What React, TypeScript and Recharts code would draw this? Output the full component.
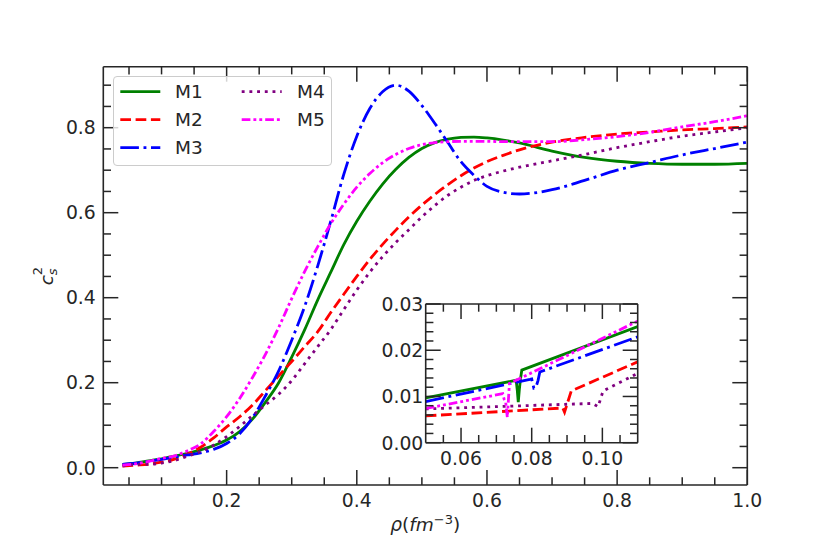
import React from 'react';
import { LineChart, Line, XAxis, YAxis, Legend } from 'recharts';

// ---------- main panel data ----------
const rho = [0.04, 0.06, 0.08, 0.10, 0.12, 0.14, 0.16, 0.18, 0.20, 0.22, 0.24, 0.26, 0.28, 0.30, 0.32, 0.34, 0.36, 0.38, 0.40, 0.42, 0.44, 0.46, 0.48, 0.50, 0.52, 0.54, 0.56, 0.58, 0.60, 0.625, 0.65, 0.70, 0.75, 0.80, 0.85, 0.90, 0.95, 1.0];
const m1 = [0.008, 0.011, 0.016, 0.021, 0.027, 0.034, 0.042, 0.052, 0.065, 0.085, 0.115, 0.155, 0.2, 0.26, 0.325, 0.395, 0.46, 0.525, 0.58, 0.627, 0.668, 0.702, 0.73, 0.751, 0.765, 0.773, 0.777, 0.778, 0.776, 0.771, 0.764, 0.745, 0.73, 0.721, 0.716, 0.714, 0.714, 0.716];
const m2 = [0.004, 0.006, 0.008, 0.013, 0.02, 0.032, 0.048, 0.07, 0.096, 0.12, 0.148, 0.182, 0.216, 0.25, 0.285, 0.32, 0.365, 0.408, 0.45, 0.49, 0.526, 0.559, 0.59, 0.618, 0.643, 0.666, 0.687, 0.705, 0.72, 0.735, 0.748, 0.766, 0.777, 0.785, 0.79, 0.795, 0.798, 0.802];
const m3 = [0.008, 0.0105, 0.015, 0.0195, 0.025, 0.03, 0.035, 0.043, 0.057, 0.08, 0.118, 0.17, 0.228, 0.3, 0.38, 0.475, 0.58, 0.69, 0.78, 0.845, 0.885, 0.9, 0.886, 0.852, 0.81, 0.765, 0.72, 0.688, 0.662, 0.648, 0.644, 0.654, 0.676, 0.7, 0.718, 0.736, 0.751, 0.766];
const m4 = [0.004, 0.0075, 0.008, 0.011, 0.017, 0.027, 0.038, 0.053, 0.073, 0.097, 0.123, 0.148, 0.173, 0.205, 0.245, 0.285, 0.325, 0.372, 0.418, 0.46, 0.497, 0.53, 0.56, 0.59, 0.617, 0.641, 0.66, 0.676, 0.687, 0.698, 0.707, 0.722, 0.737, 0.753, 0.767, 0.78, 0.79, 0.8];
const m5 = [0.006, 0.009, 0.015, 0.022, 0.028, 0.04, 0.056, 0.085, 0.12, 0.163, 0.213, 0.268, 0.33, 0.398, 0.462, 0.52, 0.574, 0.62, 0.66, 0.692, 0.718, 0.737, 0.751, 0.76, 0.765, 0.767, 0.768, 0.768, 0.768, 0.767, 0.767, 0.767, 0.772, 0.779, 0.789, 0.802, 0.814, 0.828];

// ---------- inset data ----------
const insetM1X = [0.05, 0.0756, 0.0759, 0.0762, 0.0765, 0.0768, 0.0772, 0.11];
const insetM1Y = [0.0097, 0.0135, 0.0115, 0.0088, 0.0115, 0.0136, 0.0157, 0.0251];
const insetM2X = [0.05, 0.0888, 0.0893, 0.0905, 0.0912, 0.11];
const insetM2Y = [0.0058, 0.0075, 0.0066, 0.0095, 0.0112, 0.0175];
const insetM3X = [0.05, 0.0795, 0.08, 0.0806, 0.0812, 0.0818, 0.0823, 0.11];
const insetM3Y = [0.0089, 0.0137, 0.0138, 0.0118, 0.012, 0.0135, 0.0153, 0.0229];
const insetM4X = [0.05, 0.0972, 0.0988, 0.1002, 0.11];
const insetM4Y = [0.0073, 0.0085, 0.0078, 0.0112, 0.015];
const insetM5X = [0.05, 0.0718, 0.0722, 0.0726, 0.0731, 0.0737, 0.11];
const insetM5Y = [0.0074, 0.0106, 0.0094, 0.009, 0.0055, 0.0128, 0.0263];

// ---------- ticks ----------
const mainXTicks = [0.05, 0.1, 0.15, 0.2, 0.25, 0.3, 0.35, 0.4, 0.45, 0.5, 0.55, 0.6, 0.65, 0.7, 0.75, 0.8, 0.85, 0.9, 0.95, 1.0];
const mainYTicks = [0, 0.05, 0.1, 0.15, 0.2, 0.25, 0.3, 0.35, 0.4, 0.45, 0.5, 0.55, 0.6, 0.65, 0.7, 0.75, 0.8, 0.85, 0.9];
const insetXTicks = [0.055, 0.06, 0.065, 0.07, 0.075, 0.08, 0.085, 0.09, 0.095, 0.1, 0.105];
const insetYTicks = [0, 0.002, 0.004, 0.006, 0.008, 0.01, 0.012, 0.014, 0.016, 0.018, 0.02, 0.022, 0.024, 0.026, 0.028, 0.03];

const seriesNames = ['M1', 'M2', 'M3', 'M4', 'M5'];

// ---------- styles ----------
const FONT = '"DejaVu Sans", Verdana, sans-serif';
const INK = '#262626';
const LW = 2.8;
const TICK_FS = 18.8;
const styleOf: Record<string, { color: string; dash?: string }> = {
  M1: { color: '#008000' },
  M2: { color: '#ff0000', dash: '10.7 4.6' },
  M3: { color: '#0000ff', dash: '18.6 4.6 2.9 4.6' },
  M4: { color: '#800080', dash: '2.9 4.8' },
  M5: { color: '#ff00ff', dash: '8.7 3 2.9 3 2.9 3' },
};

const mainData = rho.map((x, i) => ({ x, M1: m1[i], M2: m2[i], M3: m3[i], M4: m4[i], M5: m5[i] }));
const zipXY = (xs: number[], ys: number[]) => xs.map((x, i) => ({ x, y: ys[i] }));
const insetData: Record<string, { x: number; y: number }[]> = {
  M1: zipXY(insetM1X, insetM1Y),
  M2: zipXY(insetM2X, insetM2Y),
  M3: zipXY(insetM3X, insetM3Y),
  M4: zipXY(insetM4X, insetM4Y),
  M5: zipXY(insetM5X, insetM5Y),
};

type Side = 'bottom' | 'top' | 'left' | 'right';
const makeTick = (side: Side, step: number, digits: number, labels: boolean, gap: number) => (props: any) => {
  const { x, y, payload } = props;
  const v = payload.value as number;
  const r = v / step;
  const major = Math.abs(r - Math.round(r)) < 1e-6;
  const L = major ? 15 : 7.7;
  let x2 = x, y2 = y;
  if (side === 'bottom') y2 = y - L;
  if (side === 'top') y2 = y + L;
  if (side === 'left') x2 = x + L;
  if (side === 'right') x2 = x - L;
  let label: React.ReactNode = null;
  if (labels && major) {
    const txt = v.toFixed(digits);
    if (side === 'bottom') {
      label = (
        <text x={x} y={y + gap} textAnchor="middle" fill={INK} fontSize={TICK_FS} fontFamily={FONT}>{txt}</text>
      );
    } else if (side === 'left') {
      label = (
        <text x={x - gap} y={y + 6.8} textAnchor="end" fill={INK} fontSize={TICK_FS} fontFamily={FONT}>{txt}</text>
      );
    }
  }
  return (
    <g>
      <line x1={x} y1={y} x2={x2} y2={y2} stroke={INK} strokeWidth={1.5} />
      {label}
    </g>
  );
};

const XLabel = (props: any) => {
  const vb = props.viewBox || { x: 103.3, y: 485, width: 644, height: 30 };
  const cx = vb.x + vb.width / 2;
  const by = vb.y + 46;
  return (
    <text x={cx} y={by} textAnchor="middle" fill={INK} fontSize={18.5} fontFamily={FONT}>
      <tspan fontStyle="italic">ρ</tspan>
      <tspan>(</tspan>
      <tspan fontStyle="italic">fm</tspan>
      <tspan fontSize={13} dy={-7.5}>−3</tspan>
      <tspan dy={7.5}>)</tspan>
    </text>
  );
};

const YLabel = (props: any) => {
  const vb = props.viewBox || { x: 43.3, y: 66.7, width: 60, height: 418.3 };
  const bx = vb.x + 10;
  const cy = vb.y + vb.height / 2;
  return (
    <g transform={`translate(${bx},${cy}) rotate(-90)`}>
      <text x={-9.5} y={0} fill={INK} fontSize={18.5} fontFamily={FONT}>
        <tspan fontStyle="italic">c</tspan>
        <tspan fontStyle="italic" fontSize={13} dy={3.4}>s</tspan>
        <tspan fontSize={13} dx={-6.8} dy={-14.7}>2</tspan>
      </text>
    </g>
  );
};

const LegendBox = (props: any) => {
  const payload = [...(props.payload || [])].sort((a: any, b: any) =>
    String(a.value).localeCompare(String(b.value))
  );
  const W = 219;
  const H = 90;
  return (
    <div
      style={{
        width: W,
        height: H,
        boxSizing: 'border-box',
        border: '1px solid #cccccc',
        borderRadius: 4,
        background: 'rgba(255,255,255,0.8)',
        position: 'relative',
      }}
    >
      <svg width={W} height={H} style={{ position: 'absolute', left: -1, top: -1, overflow: 'visible' }}>
        {payload.map((e: any, i: number) => {
          const name = String(e.value);
          const st = styleOf[name] || { color: e.color };
          const col = Math.floor(i / 3);
          const row = i % 3;
          const hx = col === 0 ? 7.3 : 128.7;
          const lx = col === 0 ? 62 : 184;
          const cy = 15.6 + row * 28;
          return (
            <g key={name}>
              <line
                x1={hx}
                x2={hx + 40}
                y1={cy}
                y2={cy}
                stroke={st.color}
                strokeWidth={LW}
                strokeDasharray={st.dash}
              />
              <text x={lx} y={cy + 6.8} fill={INK} fontSize={18.5} fontFamily={FONT}>
                {name}
              </text>
            </g>
          );
        })}
      </svg>
    </div>
  );
};

export default function App() {
  return (
    <div style={{ position: 'absolute', left: 0, top: 0, width: 830, height: 554, background: '#ffffff' }}>
      <LineChart
        width={830}
        height={554}
        data={mainData}
        margin={{ top: 36.7, right: 52.7, bottom: 39, left: 43.3 }}
      >
        <XAxis
          xAxisId="b"
          dataKey="x"
          type="number"
          domain={[0.0105, 1.0]}
          allowDataOverflow
          ticks={mainXTicks}
          interval={0}
          height={30}
          tickSize={0}
          tickMargin={0}
          tickLine={false}
          axisLine={{ stroke: INK, strokeWidth: 1.6 }}
          tick={makeTick('bottom', 0.2, 1, true, 21.9)}
          label={{ content: XLabel }}
        />
        <XAxis
          xAxisId="t"
          orientation="top"
          dataKey="x"
          type="number"
          domain={[0.0105, 1.0]}
          allowDataOverflow
          ticks={mainXTicks}
          interval={0}
          height={30}
          tickSize={0}
          tickMargin={0}
          tickLine={false}
          axisLine={{ stroke: INK, strokeWidth: 1.6 }}
          tick={makeTick('top', 0.2, 1, false, 0)}
        />
        <YAxis
          yAxisId="l"
          type="number"
          domain={[-0.0407, 0.9435]}
          allowDataOverflow
          ticks={mainYTicks}
          interval={0}
          width={60}
          tickSize={0}
          tickMargin={0}
          tickLine={false}
          axisLine={{ stroke: INK, strokeWidth: 1.6 }}
          tick={makeTick('left', 0.2, 1, true, 7.5)}
          label={{ content: YLabel }}
        />
        <YAxis
          yAxisId="r"
          orientation="right"
          type="number"
          domain={[-0.0407, 0.9435]}
          allowDataOverflow
          ticks={mainYTicks}
          interval={0}
          width={30}
          tickSize={0}
          tickMargin={0}
          tickLine={false}
          axisLine={{ stroke: INK, strokeWidth: 1.6 }}
          tick={makeTick('right', 0.2, 1, false, 0)}
        />
        {seriesNames.map((n) => (
          <Line
            key={n}
            xAxisId="b"
            yAxisId="l"
            type="monotone"
            dataKey={n}
            name={n}
            stroke={styleOf[n].color}
            strokeWidth={LW}
            strokeDasharray={styleOf[n].dash}
            strokeLinecap="butt"
            dot={false}
            activeDot={false}
            isAnimationActive={false}
          />
        ))}
        <Legend
          layout="vertical"
          align="center"
          verticalAlign="middle"
          content={LegendBox}
          wrapperStyle={{ left: 112.7, top: 75.7, width: 219, height: 90 }}
        />
      </LineChart>

      <div style={{ position: 'absolute', left: 360, top: 280, width: 300, height: 200 }}>
        <LineChart width={300} height={200} margin={{ top: 14, right: 12.3, bottom: 7.3, left: 25.7 }}>
          <XAxis
            xAxisId="b"
            dataKey="x"
            type="number"
            domain={[0.05, 0.11]}
            allowDataOverflow
            ticks={insetXTicks}
            interval={0}
            height={30}
            tickSize={0}
            tickMargin={0}
            tickLine={false}
            axisLine={{ stroke: INK, strokeWidth: 1.6 }}
            tick={makeTick('bottom', 0.02, 2, true, 22.5)}
          />
          <XAxis
            xAxisId="t"
            orientation="top"
            dataKey="x"
            type="number"
            domain={[0.05, 0.11]}
            allowDataOverflow
            ticks={insetXTicks}
            interval={0}
            height={10}
            tickSize={0}
            tickMargin={0}
            tickLine={false}
            axisLine={{ stroke: INK, strokeWidth: 1.6 }}
            tick={makeTick('top', 0.02, 2, false, 0)}
          />
          <YAxis
            yAxisId="l"
            type="number"
            domain={[0, 0.03]}
            allowDataOverflow
            ticks={insetYTicks}
            interval={0}
            width={40}
            tickSize={0}
            tickMargin={0}
            tickLine={false}
            axisLine={{ stroke: INK, strokeWidth: 1.6 }}
            tick={makeTick('left', 0.01, 2, true, 2.4)}
          />
          <YAxis
            yAxisId="r"
            orientation="right"
            type="number"
            domain={[0, 0.03]}
            allowDataOverflow
            ticks={insetYTicks}
            interval={0}
            width={10}
            tickSize={0}
            tickMargin={0}
            tickLine={false}
            axisLine={{ stroke: INK, strokeWidth: 1.6 }}
            tick={makeTick('right', 0.01, 2, false, 0)}
          />
          {seriesNames.map((n) => (
            <Line
              key={n}
              xAxisId="b"
              yAxisId="l"
              data={insetData[n]}
              type="linear"
              dataKey="y"
              name={n}
              stroke={styleOf[n].color}
              strokeWidth={LW}
              strokeDasharray={styleOf[n].dash}
              strokeLinecap="butt"
              dot={false}
              activeDot={false}
              isAnimationActive={false}
            />
          ))}
        </LineChart>
      </div>
    </div>
  );
}
